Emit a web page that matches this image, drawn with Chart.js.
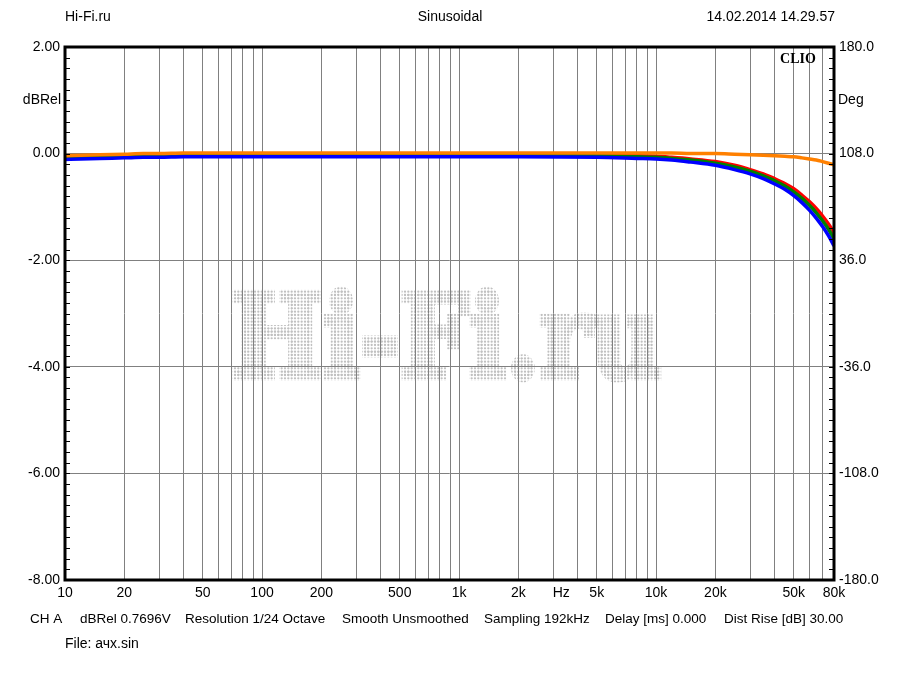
<!DOCTYPE html>
<html><head><meta charset="utf-8">
<script src="https://cdn.jsdelivr.net/npm/chart.js@4.4.1/dist/chart.umd.min.js"></script>
<style>html,body{margin:0;padding:0;background:#fff;}#wrap{width:900px;height:675px;}</style>
</head><body><div id="wrap"><canvas id="c" width="900" height="675"></canvas></div>
<script>
// ---- data ----
const freqs = [10, 12, 15, 20, 25, 30, 40, 50, 70, 100, 200, 500, 1000, 2000, 5000, 8000, 10000, 12000, 15000, 20000, 25000, 30000, 35000, 40000, 45000, 50000, 55000, 60000, 65000, 70000, 75000, 80000];
const orangeDb = [-0.04, -0.03, -0.02, -0.01, 0.00, 0.00, 0.01, 0.01, 0.01, 0.01, 0.01, 0.01, 0.01, 0.01, 0.01, 0.01, 0.01, 0.01, 0.00, 0.00, -0.01, -0.02, -0.03, -0.04, -0.05, -0.06, -0.08, -0.10, -0.12, -0.15, -0.18, -0.21];
const redDb = [-0.06, -0.05, -0.04, -0.03, -0.03, -0.02, -0.02, -0.02, -0.02, -0.02, -0.02, -0.02, -0.02, -0.02, -0.03, -0.04, -0.05, -0.07, -0.10, -0.15, -0.22, -0.30, -0.38, -0.47, -0.56, -0.66, -0.78, -0.90, -1.03, -1.17, -1.32, -1.48];
const greenDb = [-0.08, -0.07, -0.06, -0.05, -0.04, -0.04, -0.03, -0.03, -0.03, -0.03, -0.03, -0.03, -0.03, -0.03, -0.04, -0.06, -0.07, -0.09, -0.12, -0.18, -0.25, -0.33, -0.42, -0.51, -0.61, -0.72, -0.84, -0.97, -1.11, -1.26, -1.42, -1.60];
const blueDb = [-0.11, -0.10, -0.09, -0.08, -0.07, -0.07, -0.06, -0.06, -0.06, -0.06, -0.06, -0.06, -0.06, -0.06, -0.07, -0.09, -0.10, -0.12, -0.16, -0.22, -0.30, -0.38, -0.47, -0.57, -0.67, -0.79, -0.92, -1.06, -1.21, -1.37, -1.54, -1.73];

const gridFreqs = [10,20,30,40,50,60,70,80,90,100,200,300,400,500,600,700,800,900,1000,2000,3000,4000,5000,6000,7000,8000,9000,10000,20000,30000,40000,50000,60000,70000,80000];
const xTickValues = [10,20,50,100,200,500,1000,2000,5000,10000,20000,50000,80000];
const xTickLabels = ['10','20','50','100','200','500','1k','2k','5k','10k','20k','50k','80k'];
const dbMin = -8, dbMax = 2, dbMajor = 2, dbMinor = 0.2;
const degMin = -180, degMax = 180, degMajor = 72, degMinor = 7.2;

const headerLeft = 'Hi-Fi.ru', headerCenter = 'Sinusoidal', headerRight = '14.02.2014 14.29.57';
const leftUnit = 'dBRel', rightUnit = 'Deg', xUnit = 'Hz';
const infoParts = ['CH A', 'dBRel 0.7696V', 'Resolution 1/24 Octave', 'Smooth Unsmoothed', 'Sampling 192kHz', 'Delay [ms] 0.000', 'Dist Rise [dB] 30.00'];
const fileLine = 'File: ачх.sin';
const brand = 'CLIO';
const watermark = 'Hi-Fi.ru';

// ---- helpers ----
const pts = arr => freqs.map((f, i) => ({x: f, y: arr[i]}));
const isMult = (v, m) => Math.abs(v / m - Math.round(v / m)) < 1e-6;
const FONT = '"Liberation Sans", Arial, sans-serif';
Chart.defaults.font.family = FONT;
Chart.defaults.font.size = 14;
Chart.defaults.color = '#000';

// dotted pattern for watermark
const pc = document.createElement('canvas'); pc.width = 10; pc.height = 10;
const pctx = pc.getContext('2d'); pctx.fillStyle = '#c0c0c0';
for (let i = 0; i < 3; i++) for (let j = 0; j < 3; j++) {
  pctx.beginPath(); pctx.arc(1.67 + i * 3.33, 1.67 + j * 3.33, 1.15, 0, Math.PI * 2); pctx.fill();
}

const decor = {
  id: 'decor',
  beforeDraw(chart) {
    const c = chart.ctx, a = chart.chartArea;
    c.save();
    c.fillStyle = '#fff'; c.fillRect(0, 0, chart.width, chart.height);
    // dotted watermark, fitted into its box inside the plot
    const boxL = a.left + 170, boxR = a.left + 594, base = a.top + 330, capH = 84;
    c.font = 'bold 100px "DejaVu Serif", serif';
    c.textAlign = 'left'; c.textBaseline = 'alphabetic';
    const m = c.measureText(watermark), mh = c.measureText('H');
    const sx = (boxR - boxL) / (m.actualBoundingBoxLeft + m.actualBoundingBoxRight);
    const sy = capH / mh.actualBoundingBoxAscent;
    const tx = boxL + m.actualBoundingBoxLeft * sx, ty = base;
    const pat = c.createPattern(pc, 'repeat');
    pat.setTransform(new DOMMatrix([1 / sx, 0, 0, 1 / sy, -tx / sx, -ty / sy]));
    c.translate(tx, ty); c.scale(sx, sy);
    c.fillStyle = pat; c.strokeStyle = pat;
    c.lineWidth = 6; c.lineJoin = 'miter';
    c.fillText(watermark, 0, 0);
    c.strokeText(watermark, 0, 0);
    c.restore();
  },
  afterDraw(chart) {
    const c = chart.ctx, a = chart.chartArea, ys = chart.scales.y, y2 = chart.scales.y2, xs = chart.scales.x;
    c.save();
    // inner minor ticks
    c.strokeStyle = '#000'; c.lineWidth = 1;
    c.beginPath();
    ys.ticks.forEach(t => { const p = Math.round(ys.getPixelForValue(t.value)) + 0.5; c.moveTo(a.left, p); c.lineTo(a.left + 5, p); });
    y2.ticks.forEach(t => { const p = Math.round(y2.getPixelForValue(t.value)) + 0.5; c.moveTo(a.right - 5, p); c.lineTo(a.right, p); });
    c.stroke();
    // border
    c.lineWidth = 3; c.strokeStyle = '#000';
    c.strokeRect(a.left, a.top, a.right - a.left, a.bottom - a.top);
    // texts
    c.fillStyle = '#000'; c.font = '14px ' + FONT; c.textBaseline = 'middle';
    c.textAlign = 'left'; c.fillText(headerLeft, a.left, 17);
    c.textAlign = 'center'; c.fillText(headerCenter, 450, 17);
    c.textAlign = 'right'; c.fillText(headerRight, a.right + 1, 17);
    const yUnit = ys.getPixelForValue(1);
    c.textAlign = 'right'; c.fillText(leftUnit, a.left - 4, yUnit);
    c.textAlign = 'left'; c.fillText(rightUnit, a.right + 4, yUnit);
    c.textAlign = 'center'; c.fillText(xUnit, xs.getPixelForValue(3300), 593);
    c.textAlign = 'left';
    c.fillText(fileLine, 65, 644);
    c.font = '13.5px ' + FONT;
    const infoX = [30, 80, 185, 342, 484, 605, 724];
    infoParts.forEach((s, i) => c.fillText(s, infoX[i], 619));
    c.font = 'bold 14px "Liberation Serif", serif';
    c.textAlign = 'center'; c.fillText(brand, 798, 59);
    c.restore();
  }
};

new Chart(document.getElementById('c'), {
  type: 'line',
  data: {
    datasets: [
      {label: 'orange', data: pts(orangeDb), borderColor: '#ff8000'},
      {label: 'blue', data: pts(blueDb), borderColor: '#0000ff'},
      {label: 'green', data: pts(greenDb), borderColor: '#008000'},
      {label: 'red', data: pts(redDb), borderColor: '#ff0000'}
    ].map(d => Object.assign(d, {borderWidth: 3.5, pointRadius: 0, cubicInterpolationMode: 'monotone', fill: false, yAxisID: 'y'}))
  },
  options: {
    responsive: false, animation: false, devicePixelRatio: 1,
    layout: {padding: {top: 47, left: 0, right: 0, bottom: 0}},
    plugins: {legend: {display: false}, tooltip: {enabled: false}, title: {display: false}},
    scales: {
      x: {
        type: 'logarithmic', min: 10, max: 80000,
        afterBuildTicks: s => { s.ticks = gridFreqs.map(v => ({value: v})); },
        afterFit: s => { s.height = 95; },
        border: {display: false},
        grid: {color: '#808080', lineWidth: 1, drawTicks: false},
        ticks: {autoSkip: false, maxRotation: 0, minRotation: 0, padding: 5,
          callback: v => { const i = xTickValues.indexOf(v); return i >= 0 ? xTickLabels[i] : ''; }}
      },
      y: {
        position: 'left', min: dbMin, max: dbMax,
        afterFit: s => { s.width = 65; },
        border: {display: false},
        grid: {drawTicks: false, lineWidth: 1, color: ctx => isMult(ctx.tick.value - dbMin, dbMajor) ? '#808080' : 'rgba(0,0,0,0)'},
        ticks: {stepSize: dbMinor, autoSkip: false, padding: 5,
          callback: v => isMult(v - dbMin, dbMajor) ? Number(v).toFixed(2) : ''}
      },
      y2: {
        position: 'right', min: degMin, max: degMax,
        afterFit: s => { s.width = 66; },
        border: {display: false},
        grid: {display: false, drawTicks: false},
        ticks: {stepSize: degMinor, autoSkip: false, padding: 5,
          callback: v => isMult(v - degMin, degMajor) ? Number(v).toFixed(1) : ''}
      }
    }
  },
  plugins: [decor]
});
</script></body></html>
